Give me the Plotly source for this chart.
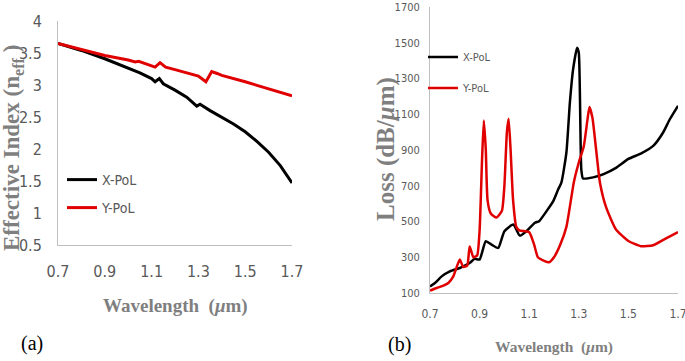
import plotly.graph_objects as go

# ---- (a) Effective index ----
wl_a_x = [0.70, 0.80, 0.90, 1.00, 1.05, 1.10, 1.115, 1.133, 1.15, 1.20, 1.25, 1.293, 1.307,
          1.35, 1.40, 1.45, 1.50, 1.55, 1.60, 1.65, 1.70]
neff_x = [3.65, 3.54, 3.41, 3.27, 3.19, 3.10, 3.05, 3.10, 3.02, 2.92, 2.81, 2.67, 2.70,
          2.60, 2.50, 2.39, 2.27, 2.12, 1.95, 1.74, 1.47]
wl_a_y = [0.70, 0.80, 0.90, 1.00, 1.03, 1.045, 1.06, 1.115, 1.136, 1.16, 1.20, 1.30, 1.332,
          1.357, 1.38, 1.40, 1.50, 1.60, 1.70]
neff_y = [3.65, 3.55, 3.46, 3.39, 3.36, 3.37, 3.35, 3.28, 3.35, 3.28, 3.24, 3.14, 3.05,
          3.21, 3.18, 3.15, 3.05, 2.94, 2.83]

# ---- (b) Loss ----
wl_b_x = [0.70, 0.72, 0.747, 0.78, 0.82, 0.84, 0.86, 0.88, 0.90, 0.925, 0.948, 0.975, 1.0,
          1.036, 1.062, 1.089, 1.123, 1.14, 1.17, 1.197, 1.217, 1.23, 1.25, 1.264, 1.277,
          1.293, 1.30, 1.31, 1.317, 1.358, 1.40, 1.45, 1.50, 1.55, 1.60, 1.64, 1.667, 1.70]
loss_x = [137, 156, 193, 221, 240, 253, 268, 291, 287, 390, 371, 352, 446,
          483, 421, 446, 493, 502, 558, 614, 680, 719, 886, 1165, 1351,
          1472, 1444, 793, 741, 747, 765, 800, 850, 880, 923, 998, 1072, 1147]
wl_b_y = [0.70, 0.727, 0.754, 0.774, 0.794, 0.82, 0.834, 0.85, 0.86, 0.875, 0.89, 0.90,
          0.91, 0.917, 0.925, 0.932, 0.945, 0.968, 0.99, 1.0, 1.01, 1.017, 1.025, 1.035,
          1.048, 1.06, 1.10, 1.12, 1.135, 1.16, 1.18, 1.20, 1.225, 1.25, 1.28, 1.30, 1.32,
          1.335, 1.343, 1.355, 1.37, 1.385, 1.41, 1.45, 1.50, 1.55, 1.60, 1.65, 1.70]
loss_y = [113, 128, 141, 156, 193, 287, 246, 253, 360, 300, 310, 450,
          850, 1065, 900, 620, 545, 522, 560, 700, 1000, 1075, 900, 620,
          470, 450, 440, 370, 300, 280, 272, 300, 370, 470, 720, 830, 920,
          1070, 1140, 1080, 900, 720, 580, 455, 391, 362, 367, 404, 441]

xticks = [0.7, 0.9, 1.1, 1.3, 1.5, 1.7]
yticks_a = [0.5, 1, 1.5, 2, 2.5, 3, 3.5, 4]
yticks_b = [100, 300, 500, 700, 900, 1100, 1300, 1500, 1700]

W, H = 685, 361
BLACK = "#000000"
RED = "#e00000"
GRAY = "#595959"
AXC = "#bfbfbf"
NARROW = "DejaVu Sans Condensed, Liberation Sans Narrow, sans-serif"
SERIF = "Liberation Serif, Times New Roman, serif"

def px(x):
    return min(1.0, max(0.0, x / W))

def py(y):
    return min(1.0, max(0.0, 1 - y / H))

fig = go.Figure()
fig.add_trace(go.Scatter(x=wl_a_x, y=neff_x, mode="lines", name="X-PoL",
                         line=dict(color=BLACK, width=3), xaxis="x", yaxis="y", legend="legend"))
fig.add_trace(go.Scatter(x=wl_a_y, y=neff_y, mode="lines", name="Y-PoL",
                         line=dict(color=RED, width=3), xaxis="x", yaxis="y", legend="legend2"))
fig.add_trace(go.Scatter(x=wl_b_x, y=loss_x, mode="lines", name="X-PoL",
                         line=dict(color=BLACK, width=2.5, shape="spline", smoothing=0.5),
                         xaxis="x2", yaxis="y2", legend="legend3"))
fig.add_trace(go.Scatter(x=wl_b_y, y=loss_y, mode="lines", name="Y-PoL",
                         line=dict(color=RED, width=2.5, shape="spline", smoothing=0.5),
                         xaxis="x2", yaxis="y2", legend="legend4"))

common_axis = dict(showgrid=False, zeroline=False, showline=True, linecolor=AXC, linewidth=1,
                   ticks="", automargin=False, ticklabeloverflow="allow")

def leg(x, y, size):
    return dict(x=px(x), y=py(y), xanchor="left", yanchor="middle", bgcolor="rgba(0,0,0,0)",
                borderwidth=0, itemwidth=30, xref="paper", yref="paper",
                font=dict(family=NARROW, size=size, color=GRAY))

def ann(text, x, y, size, color="#7f7f7f", angle=0):
    return dict(text=text, x=px(x), y=py(y), xref="paper", yref="paper", showarrow=False,
                xanchor="center", yanchor="middle", textangle=angle,
                font=dict(family=SERIF, size=size, color=color))

fig.update_layout(
    width=W, height=H, margin=dict(l=0, r=0, t=0, b=0, autoexpand=False),
    paper_bgcolor="white", plot_bgcolor="white", showlegend=True,
    xaxis=dict(domain=[px(58), px(292)], range=[0.7, 1.7], tickvals=xticks,
               ticktext=[f"{v:.1f}" for v in xticks], anchor="y",
               tickfont=dict(family=NARROW, size=16, color=GRAY), ticklabelstandoff=12,
               **common_axis),
    yaxis=dict(domain=[py(245), py(21)], range=[0.5, 4], tickvals=yticks_a,
               ticktext=[f"{v:g}" for v in yticks_a], anchor="x",
               tickfont=dict(family=NARROW, size=16, color=GRAY), ticklabelstandoff=12,
               **common_axis),
    xaxis2=dict(domain=[px(430), px(678)], range=[0.7, 1.7], tickvals=xticks,
                ticktext=[f"{v:.1f}" for v in xticks], anchor="y2",
                tickfont=dict(family=NARROW, size=12, color=GRAY), ticklabelstandoff=10,
                **common_axis),
    yaxis2=dict(domain=[py(293), py(7)], range=[100, 1700], tickvals=yticks_b,
                ticktext=[str(v) for v in yticks_b], anchor="x2",
                tickfont=dict(family=NARROW, size=11, color=GRAY), ticklabelstandoff=7,
                **common_axis),
    legend=leg(62, 180, 14),
    legend2=leg(62, 208, 14),
    legend3=leg(423, 57, 11),
    legend4=leg(423, 88, 11),
    annotations=[
        ann("<b>Effective Index (n<sub>eff</sub> )</b>", 13, 148, 23, angle=-90),
        ann("<b>Wavelength  (<i>μ</i>m)</b>", 175, 306, 19),
        ann("(a)", 32, 343, 20, color="#000000"),
        ann("<b>Loss (dB/<i>μ</i>m)</b>", 386, 149, 25, angle=-90),
        ann("<b>Wavelength  (<i>μ</i>m)</b>", 554, 347, 15.5),
        ann("(b)", 400, 344, 20, color="#000000"),
    ],
)

# remove the browser's default 8px body margin so the figure fills the window exactly
fig.write_html("out.html", config={"displayModeBar": False},
               post_script="document.body.style.margin='0';")
